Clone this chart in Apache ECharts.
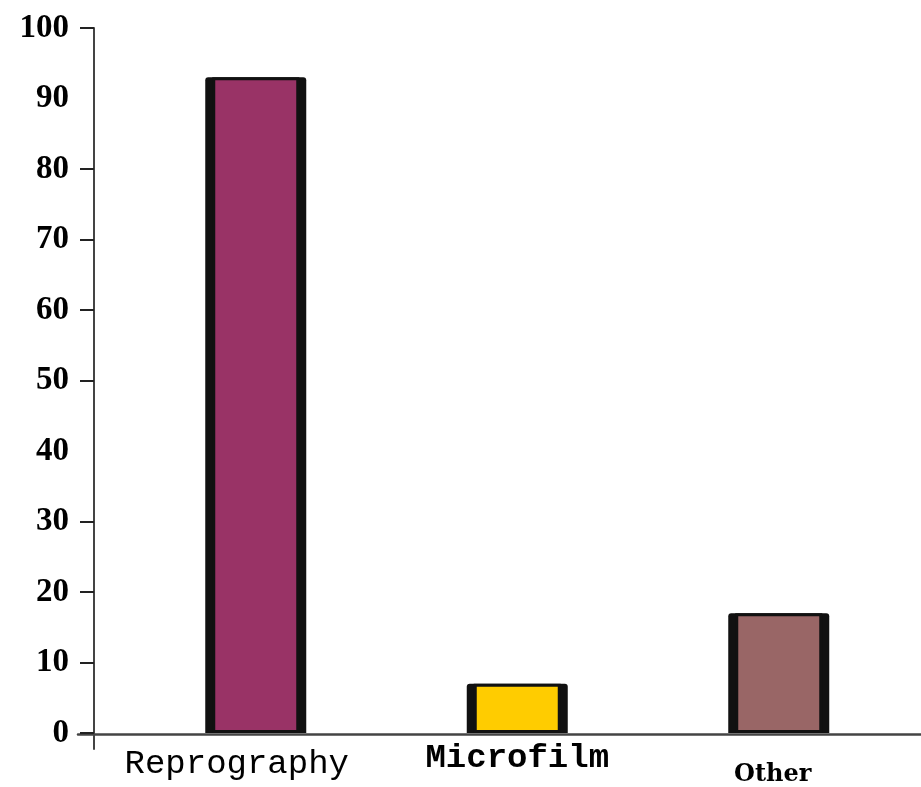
<!DOCTYPE html>
<html>
<head>
<meta charset="utf-8">
<script src="https://cdn.jsdelivr.net/npm/echarts@6/dist/echarts.min.js"></script>
<style>
html,body{margin:0;padding:0;background:#fff;}
#chart{width:921px;height:787px;}
</style>
</head>
<body>
<div id="chart"></div>
<script>
const categories = ['Reprography', 'Microfilm', 'Other'];
const values = [93, 7, 17];
const barColors = ['#993366', '#FFCC00', '#996666'];
const yTickLabels = [0, 10, 20, 30, 40, 50, 60, 70, 80, 90, 100];
const yTickMarks = [0, 10, 20, 30, 50, 60, 70, 80, 100];
const labelStyleKeys = ['r', 'm', 'o'];

const chart = echarts.init(document.getElementById('chart'));
chart.setOption({
  animation: false,
  backgroundColor: '#ffffff',
  grid: [
    { left: 125, right: 11.5, top: 28, bottom: 52.5 },
    { left: 78, right: 0, top: 28, bottom: 38 }
  ],
  xAxis: [
    {
      type: 'category', gridIndex: 0, data: categories,
      axisLine: { show: false }, axisTick: { show: false },
      axisLabel: {
        margin: 8,
        interval: 0,
        formatter: function (v, i) { return '{' + labelStyleKeys[i] + '|' + v + '}'; },
        rich: {
          r: { fontFamily: 'Liberation Mono', fontSize: 34, color: '#000', lineHeight: 34, padding: [11, 38, 0, 0] },
          m: { fontFamily: 'Liberation Mono', fontSize: 34, fontWeight: 'bold', color: '#000', lineHeight: 34, padding: [0, 0, 0, 0] },
          o: { fontFamily: 'DejaVu Serif', fontSize: 24, fontWeight: 'bold', color: '#000', lineHeight: 68, padding: [0, 12, 0, 0] }
        }
      }
    },
    {
      type: 'value', gridIndex: 1, min: -16, max: 827,
      axisLine: { show: true, onZero: true, lineStyle: { color: '#444', width: 2.5 } },
      axisTick: { show: false }, axisLabel: { show: false }, splitLine: { show: false }
    },
    {
      type: 'category', gridIndex: 0, data: categories, show: false
    }
  ],
  yAxis: [
    {
      type: 'value', gridIndex: 0, min: 0, max: 100, interval: 10, offset: 31,
      axisLine: { show: false },
      axisTick: { show: true, length: 14, customValues: yTickMarks, lineStyle: { color: '#222', width: 2 } },
      axisLabel: {
        customValues: yTickLabels,
        margin: 25, fontFamily: 'Liberation Serif', fontWeight: 'bold', fontSize: 33, color: '#000'
      },
      splitLine: { show: false }
    },
    {
      type: 'value', gridIndex: 1, min: -2.05, max: 100,
      axisLine: { show: true, onZero: true, lineStyle: { color: '#444', width: 2 } },
      axisTick: { show: false }, axisLabel: { show: false }, splitLine: { show: false }
    }
  ],
  series: [
    {
      type: 'bar', xAxisIndex: 0, yAxisIndex: 0, data: values,
      barWidth: 101, z: 2,
      itemStyle: { color: '#111', borderRadius: [3, 3, 0, 0] }
    },
    {
      type: 'bar', xAxisIndex: 2, yAxisIndex: 0,
      data: values.map((v, i) => ({ value: v, itemStyle: { color: barColors[i] } })),
      barWidth: 87, z: 3,
      itemStyle: { borderColor: '#111', borderWidth: 3 }
    }
  ]
});
</script>
</body>
</html>
